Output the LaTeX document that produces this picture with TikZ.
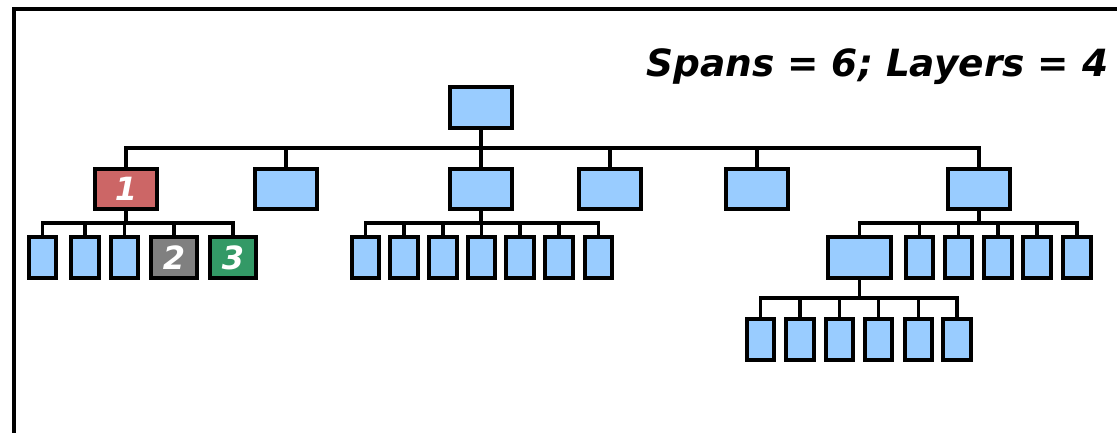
\documentclass[tikz,border=0pt]{standalone}
\usepackage{fontspec}
\usepackage{xcolor}
\usepackage{tikz}
\usetikzlibrary{positioning,calc}
\newfontfamily\chartfont{DejaVu Sans}
\definecolor{spBlue} {RGB}{153,204,255}
\definecolor{spRed}  {RGB}{204,102,102}
\definecolor{spGrey} {RGB}{128,128,128}
\definecolor{spGreen}{RGB}{ 51,153,102}
\begin{document}
\begin{tikzpicture}[
    x=1pt,y=-1pt,
    every node/.style={font=\chartfont\bfseries\itshape\fontsize{32}{32}\selectfont,text=white},
    box/.style={rectangle,draw=black,line width=3.6pt,inner sep=0pt,
                minimum width=62.5pt,minimum height=40.5pt},
    leaf/.style={box,minimum width=27.5pt},
    wideB/.style={box,minimum width=63.5pt},
    blueB/.style={box,fill=spBlue},
    redB/.style={box,fill=spRed},
    leafB/.style={leaf,fill=spBlue},
    greyB/.style={leaf,fill=spGrey,minimum width=46.5pt},
    greenB/.style={leaf,fill=spGreen,minimum width=46.5pt},
    link/.style={draw=black,line width=3.3pt},
    frame/.style={draw=black,line width=3.2pt}
  ]
  \useasboundingbox (0,0) rectangle (1117,432);
  \clip (0,0) rectangle (1117,432);
  \draw[frame] (14,9) rectangle (1150,470);
  % Title
  \node[anchor=base east,text=black,font=\chartfont\bfseries\itshape\fontsize{37.5}{37.5}\selectfont]
        (title) at (1112,76) {Spans = 6; Layers = 4};
  % Layer 1: root
  \node[blueB] (root) at (481,107.5) {};
  % Layer 2
  \node[redB]  (a1) at (126,189) {1};
  \node[blueB] (a2) at (286,189) {};
  \node[blueB] (a3) at (481,189) {};
  \node[blueB] (a4) at (610,189) {};
  \node[blueB] (a5) at (757,189) {};
  \node[blueB] (a6) at (979,189) {};
  % Layer 3: under a1
  \node[leafB]  (b1) at (42.5,257.5) {};
  \node[leafB]  (b2) at (85,257.5) {};
  \node[leafB]  (b3) at (124.5,257.5) {};
  \node[greyB]  (b4) at (174,257.5) {2};
  \node[greenB] (b5) at (233,257.5) {3};
  % Layer 3: under a3
  \node[leafB] (c1) at (365.5,257.5) {};
  \node[leafB] (c2) at (404,257.5) {};
  \node[leafB] (c3) at (443,257.5) {};
  \node[leafB] (c4) at (481.5,257.5) {};
  \node[leafB] (c5) at (520,257.5) {};
  \node[leafB] (c6) at (559,257.5) {};
  \node[leafB] (c7) at (598.5,257.5) {};
  % Layer 3: under a6
  \node[blueB,wideB] (d1) at (859.5,257.5) {};
  \node[leafB] (d2) at (919.5,257.5) {};
  \node[leafB] (d3) at (958.5,257.5) {};
  \node[leafB] (d4) at (998,257.5) {};
  \node[leafB] (d5) at (1037,257.5) {};
  \node[leafB] (d6) at (1077,257.5) {};
  % Layer 4: under d1
  \node[leafB] (e1) at (760.5,339.5) {};
  \node[leafB] (e2) at (800,339.5) {};
  \node[leafB] (e3) at (839.5,339.5) {};
  \node[leafB] (e4) at (878.5,339.5) {};
  \node[leafB] (e5) at (918.5,339.5) {};
  \node[leafB] (e6) at (957,339.5) {};
  % Bus lines
  \coordinate (busA) at (0,148);
  \coordinate (busB) at (0,223);
  \coordinate (busE) at (0,298);
  \foreach \c in {a1,a2,a3,a4,a5,a6}
    \draw[link,line width=3.8pt] (root.south) |- (\c.north |- busA) -- (\c.north);
  \foreach \c in {b1,b2,b3,b4,b5}
    \draw[link] (a1.south) |- (\c.north |- busB) -- (\c.north);
  \foreach \c in {c1,c2,c3,c4,c5,c6,c7}
    \draw[link] (a3.south) |- (\c.north |- busB) -- (\c.north);
  \foreach \c in {d1,d2,d3,d4,d5,d6}
    \draw[link] (a6.south) |- (\c.north |- busB) -- (\c.north);
  \foreach \c in {e1,e2,e3,e4,e5,e6}
    \draw[link] (d1.south) |- (\c.north |- busE) -- (\c.north);
\end{tikzpicture}
\end{document}
